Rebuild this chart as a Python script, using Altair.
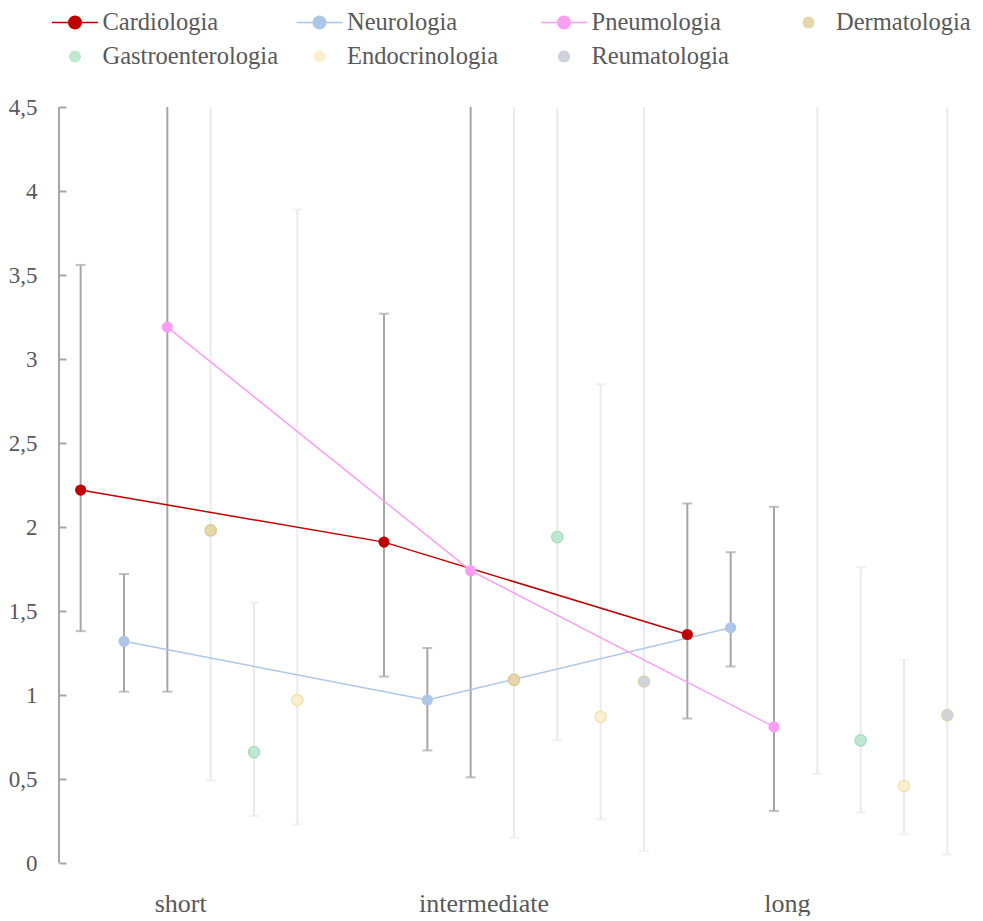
import math
import altair as alt
import pandas as pd

# ---------------- data ----------------
periods = ["short", "intermediate", "long"]
series = ["Cardiologia", "Neurologia", "Pneumologia", "Dermatologia",
          "Gastroenterologia", "Endocrinologia", "Reumatologia"]
highlighted = ["Cardiologia", "Neurologia", "Pneumologia"]
faded = ["Dermatologia", "Gastroenterologia", "Endocrinologia", "Reumatologia"]

# estimates (short, intermediate, long)
est_cardiologia = [2.22, 1.91, 1.36]
est_neurologia = [1.32, 0.97, 1.40]
est_pneumologia = [3.19, 1.74, 0.81]
est_dermatologia = [1.98, 1.09, 5.10]
est_gastroenterologia = [0.66, 1.94, 0.73]
est_endocrinologia = [0.97, 0.87, 0.46]
est_reumatologia = [None, 1.08, 0.88]

# lower confidence limits
lo_cardiologia = [1.38, 1.11, 0.86]
lo_neurologia = [1.02, 0.67, 1.17]
lo_pneumologia = [1.02, 0.51, 0.31]
lo_dermatologia = [0.49, 0.15, 0.53]
lo_gastroenterologia = [0.28, 0.73, 0.30]
lo_endocrinologia = [0.23, 0.26, 0.17]
lo_reumatologia = [None, 0.07, 0.05]

# upper confidence limits
hi_cardiologia = [3.56, 3.27, 2.14]
hi_neurologia = [1.72, 1.28, 1.85]
hi_pneumologia = [9.97, 5.89, 2.12]
hi_dermatologia = [8.00, 8.02, 49.0]
hi_gastroenterologia = [1.55, 5.13, 1.76]
hi_endocrinologia = [3.89, 2.85, 1.21]
hi_reumatologia = [None, 16.3, 14.9]

ests = [est_cardiologia, est_neurologia, est_pneumologia, est_dermatologia,
        est_gastroenterologia, est_endocrinologia, est_reumatologia]
los = [lo_cardiologia, lo_neurologia, lo_pneumologia, lo_dermatologia,
       lo_gastroenterologia, lo_endocrinologia, lo_reumatologia]
his = [hi_cardiologia, hi_neurologia, hi_pneumologia, hi_dermatologia,
       hi_gastroenterologia, hi_endocrinologia, hi_reumatologia]

# ---------------- styles ----------------
point_colors = ["#c00000", "#aec7e8", "#fa9ef4", "#e6d7aa",
                "#bfe8d1", "#fbefd0", "#cdd2dc"]
stroke_colors = ["#c00000", "#aec7e8", "#fa9ef4", "#d8c58e",
                 "#a3dcbc", "#f2e0b0", "#e0d3ad"]


def circle_path(r, n=28):
    pts = ["%.4f,%.4f" % (r * math.cos(2 * math.pi * k / n), r * math.sin(2 * math.pi * k / n))
           for k in range(n)]
    return "M" + "L".join(pts) + "Z"


# legend symbols: unit = 12.5 px (symbolSize 625)
line_dot = "M-1.84,-0.06L1.84,-0.06L1.84,0.06L-1.84,0.06Z" + circle_path(0.56)
dot = circle_path(0.48)
legend_shapes = [line_dot, line_dot, line_dot, dot, dot, dot, dot]

FONT = "Liberation Serif"
TXT = "#595959"
DARK_ERR = "#a6a6a6"
LIGHT_ERR = "#ebebeb"

rows = []
for s, e, l, h in zip(series, ests, los, his):
    for ci, p in enumerate(periods):
        if e[ci] is None:
            continue
        rows.append({"series": s, "period": p, "ci": ci,
                     "est": e[ci], "lo": l[ci], "hi": h[ci]})
df = pd.DataFrame(rows)

xscale = alt.Scale(domain=periods, paddingInner=0, paddingOuter=0)
xaxis = alt.Axis(title=None, domain=False, ticks=False, grid=False, labelAngle=0,
                 labelFont=FONT, labelFontSize=26, labelColor=TXT,
                 labelPadding=27, labelOffset=-30)
yscale = alt.Scale(domain=[0, 4.5], nice=False, zero=False)
yaxis = alt.Axis(title=None, values=[0, 0.5, 1, 1.5, 2, 2.5, 3, 3.5, 4, 4.5],
                 format="~g", labelExpr="replace(datum.label, '.', ',')",
                 offset=-7, domain=False, ticks=True, tickSize=7, tickWidth=2,
                 tickColor=DARK_ERR, labelPadding=22, labelFont=FONT,
                 labelFontSize=23, labelColor=TXT, grid=False)

X = alt.X("period:N", scale=xscale, axis=xaxis)
XO = alt.XOffset("series:N", scale=alt.Scale(domain=series, paddingInner=0, paddingOuter=0))

base = alt.Chart(df)


def errbars(names, color):
    sub = base.transform_filter(alt.FieldOneOfPredicate(field="series", oneOf=names))
    rule = sub.mark_rule(clip=True, color=color, strokeWidth=2).encode(
        x=X, xOffset=XO,
        y=alt.Y("lo:Q", scale=yscale, axis=yaxis), y2="hi:Q")
    caps = sub.transform_fold(["lo", "hi"], as_=["kind", "value"]).mark_tick(
        clip=True, color=color, thickness=2, size=10, orient="horizontal").encode(
        x=X, xOffset=XO, y=alt.Y("value:Q", scale=yscale, axis=yaxis))
    return rule + caps


color_enc = alt.Color("series:N", scale=alt.Scale(domain=series, range=point_colors),
                      legend=None)
stroke_enc = alt.Stroke("series:N", scale=alt.Scale(domain=series, range=stroke_colors),
                        legend=None)

hl = base.transform_filter(alt.FieldOneOfPredicate(field="series", oneOf=highlighted))
fd = base.transform_filter(alt.FieldOneOfPredicate(field="series", oneOf=faded))

lines = hl.mark_line(strokeWidth=1.5, clip=True).encode(
    x=X, xOffset=XO, y=alt.Y("est:Q", scale=yscale, axis=yaxis),
    color=color_enc, detail="series:N", order=alt.Order("ci:Q"))

faded_pts = fd.mark_circle(size=130, opacity=1, strokeWidth=1.2, clip=True).encode(
    x=X, xOffset=XO, y=alt.Y("est:Q", scale=yscale, axis=yaxis),
    color=color_enc, stroke=stroke_enc)

hl_pts = hl.mark_circle(size=125, opacity=1, clip=True).encode(
    x=X, xOffset=XO, y=alt.Y("est:Q", scale=yscale, axis=yaxis),
    color=color_enc)

axis_line = base.mark_rule(color=DARK_ERR, strokeWidth=2).encode(
    x=alt.value(0),
    y=alt.YDatum(0, scale=yscale, axis=yaxis), y2=alt.Y2Datum(4.5))

legend = alt.Legend(title=None, orient="none", legendX=-7, legendY=-97,
                    direction="horizontal",
                    columns=4, gridAlign="all", columnPadding=17.5, rowPadding=9,
                    symbolSize=625, symbolStrokeWidth=0,
                    symbolOffset=10.5, labelOffset=15,
                    labelFont=FONT, labelFontSize=24.5,
                    labelColor=TXT, labelLimit=400, padding=0)

legend_layer = base.transform_filter("false").mark_point(filled=True, opacity=1).encode(
    fill=alt.Fill("series:N", scale=alt.Scale(domain=series, range=point_colors),
                  legend=legend),
    shape=alt.Shape("series:N", scale=alt.Scale(domain=series, range=legend_shapes),
                    legend=legend))

chart = alt.layer(
    legend_layer,
    errbars(faded, LIGHT_ERR),
    errbars(highlighted, DARK_ERR),
    lines,
    faded_pts,
    hl_pts,
    axis_line,
).properties(
    width=910, height=756,
    padding={"left": 0, "top": 2, "right": 0, "bottom": 0},
).configure(background="white").configure_view(stroke=None)

chart.save("out.html", embed_options={"renderer": "svg", "actions": False})
